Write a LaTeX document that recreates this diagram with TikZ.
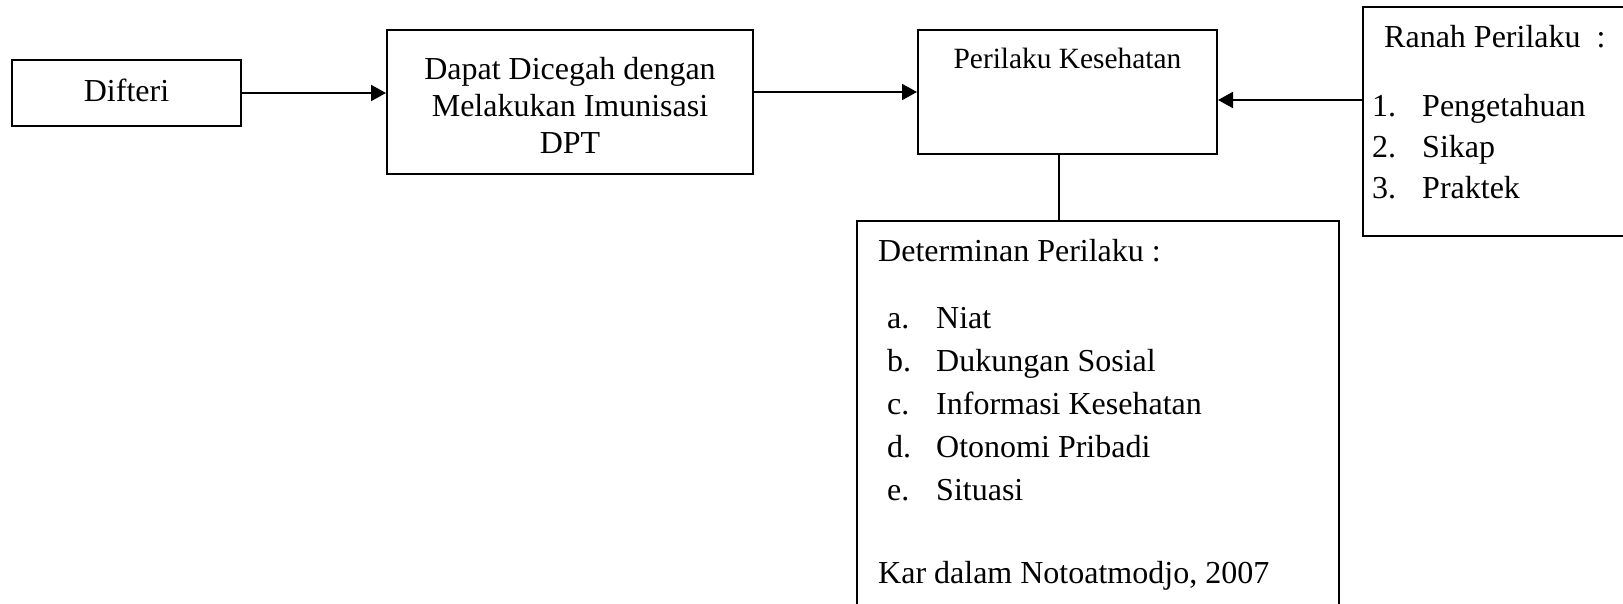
\documentclass[tikz,border=0pt]{standalone}
\usepackage{fontspec}
\setmainfont{Liberation Serif}
\usetikzlibrary{arrows.meta}
\begin{document}
\begin{tikzpicture}[x=1pt,y=1pt,
  box/.style={draw=black,line width=2pt,rectangle,inner sep=0pt},
  txt/.style={inner sep=0pt,font=\fontsize{32}{38}\selectfont},
  arr/.style={line width=2pt,-{Triangle[length=15pt,width=16pt]}},
  con/.style={line width=2pt}]
\path[use as bounding box] (0,0) rectangle (1623,-603);
\clip (0,0) rectangle (1623,-603);
\fill[white] (0,0) rectangle (1623,-603);
% boxes
\node[box,minimum width=229pt,minimum height=66pt] (dif) at (126.5,-93) {};
\node[box,minimum width=366pt,minimum height=144pt] (dap) at (570,-102) {};
\node[box,minimum width=299pt,minimum height=124pt] (per) at (1067.5,-92) {};
\node[box,minimum width=287pt,minimum height=229pt] (ran) at (1506.5,-121.5) {};
\node[box,minimum width=482pt,minimum height=419pt] (det) at (1098,-430.5) {};
% texts
\node[txt,anchor=base] (tdif) at (126.5,-101) {Difteri};
\node[txt,anchor=base] (tdap1) at (570,-79) {Dapat Dicegah dengan};
\node[txt,anchor=base] (tdap2) at (570,-116) {Melakukan Imunisasi};
\node[txt,anchor=base] (tdap3) at (570,-153) {DPT};
\node[txt,anchor=base,font=\fontsize{29.4}{35}\selectfont] (tper) at (1067.5,-68) {Perilaku Kesehatan};
\node[txt,anchor=base west] (tran) at (1384,-47) {Ranah Perilaku\ \ :};
\node[txt,anchor=base west] (r1n) at (1372,-116) {1.};
\node[txt,anchor=base west] (r1) at (1422,-116) {Pengetahuan};
\node[txt,anchor=base west] (r2n) at (1372,-157) {2.};
\node[txt,anchor=base west] (r2) at (1422,-157) {Sikap};
\node[txt,anchor=base west] (r3n) at (1372,-198) {3.};
\node[txt,anchor=base west] (r3) at (1422,-198) {Praktek};
\node[txt,anchor=base west] (tdet) at (878,-261) {Determinan Perilaku :};
\node[txt,anchor=base west] (dan) at (887,-328) {a.};
\node[txt,anchor=base west] (da) at (936,-328) {Niat};
\node[txt,anchor=base west] (dbn) at (887,-371) {b.};
\node[txt,anchor=base west] (db) at (936,-371) {Dukungan Sosial};
\node[txt,anchor=base west] (dcn) at (887,-414) {c.};
\node[txt,anchor=base west] (dc) at (936,-414) {Informasi Kesehatan};
\node[txt,anchor=base west] (ddn) at (887,-457) {d.};
\node[txt,anchor=base west] (dd) at (936,-457) {Otonomi Pribadi};
\node[txt,anchor=base west] (den) at (887,-500) {e.};
\node[txt,anchor=base west] (de) at (936,-500) {Situasi};
\node[txt,anchor=base west] (tkar) at (878,-583) {Kar dalam Notoatmodjo, 2007};
% connectors
\draw[arr] (dif.east) -- (dap.west |- dif.east);
\draw[arr] (dap.east |- per.west) -- (per.west);
\coordinate (pin) at ([yshift=-8pt]per.east);
\draw[arr] (ran.west |- pin) -- (pin);
\coordinate (jt) at ([xshift=-8.5pt]per.south);
\draw[con] (jt) -- (jt |- det.north);
\end{tikzpicture}
\end{document}
